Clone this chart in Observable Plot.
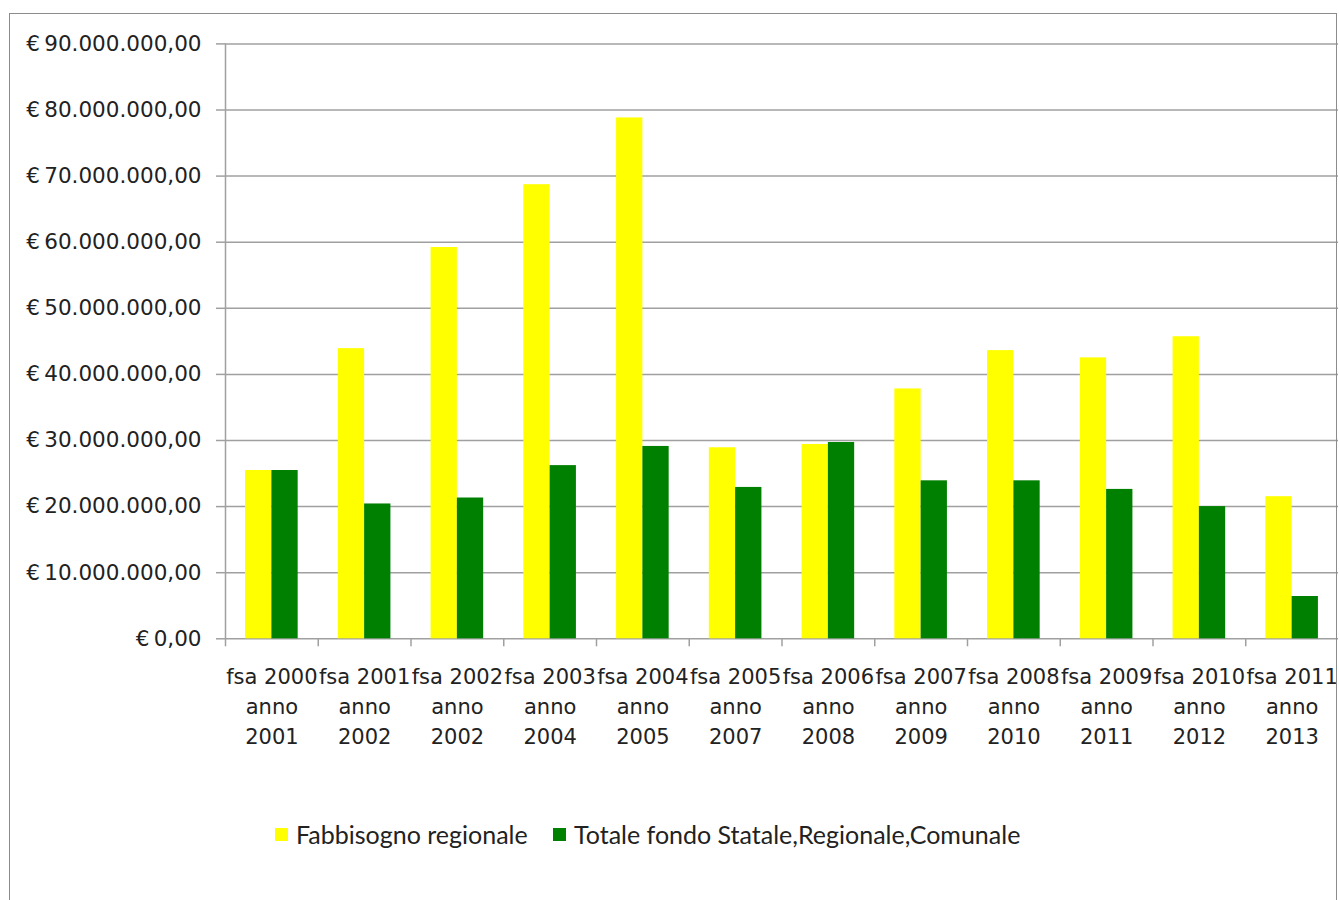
<!DOCTYPE html>
<html>
<head>
<meta charset="utf-8">
<script src="https://cdn.jsdelivr.net/npm/d3@7"></script>
<script src="https://cdn.jsdelivr.net/npm/@observablehq/plot@0.6"></script>
<style>
  html, body { margin: 0; padding: 0; background: #fff; width: 1339px; height: 900px; overflow: hidden; }
  #wrap { position: relative; width: 1339px; height: 900px; }
  #chart { position: absolute; left: 0; top: 0; }
  #frame { position: absolute; left: 9px; top: 13px; width: 1328px; height: 900px;
           border: 1.5px solid #8c8c8c; border-bottom: none; pointer-events: none; box-sizing: border-box; }
  #legend { position: absolute; top: 819px; left: 0; width: 1339px; height: 30px;
            font-family: Lato, "Open Sans", sans-serif; font-size: 25px; color: #222; }
  .item { position: absolute; top: 0; display: flex; align-items: center; height: 30px; white-space: nowrap; }
  .sw { width: 13px; height: 13px; margin-right: 8px; }
</style>
</head>
<body>
<div id="wrap">
  <div id="chart"></div>
  <div id="legend"></div>
  <div id="frame"></div>
</div>
<script>
// ---- data ----
const categories = [
  "fsa 2000\nanno\n2001", "fsa 2001\nanno\n2002", "fsa 2002\nanno\n2002", "fsa 2003\nanno\n2004",
  "fsa 2004\nanno\n2005", "fsa 2005\nanno\n2007", "fsa 2006\nanno\n2008", "fsa 2007\nanno\n2009",
  "fsa 2008\nanno\n2010", "fsa 2009\nanno\n2011", "fsa 2010\nanno\n2012", "fsa 2011\nanno\n2013"
];
const seriesNames = ["Fabbisogno regionale", "Totale fondo Statale,Regionale,Comunale"];
const seriesColors = ["#ffff00", "#008000"];
const fabbisogno = [25460000, 43900000, 59200000, 68700000, 78800000, 28900000,
                    29400000, 37800000, 43600000, 42500000, 45700000, 21500000];
const totale = [25460000, 20400000, 21300000, 26200000, 29100000, 22900000,
                29700000, 23900000, 23900000, 22600000, 20000000, 6400000];
const yTicks = [0, 10000000, 20000000, 30000000, 40000000, 50000000, 60000000, 70000000, 80000000, 90000000];

// ---- build ----
const rowsA = categories.map((c, i) => ({cat: c, value: fabbisogno[i]}));
const rowsB = categories.map((c, i) => ({cat: c, value: totale[i]}));

const W = 1339, H = 760;
const mL = 225, mR = 1, mT = 43.4, mB = H - 638.3;
const step = (W - mL - mR) / categories.length;
const groupW = step * 0.567;
const barW = groupW / 2;
const off = (step - groupW) / 2;

const numFmt = d3.formatLocale({decimal: ",", thousands: ".", grouping: [3]}).format(",.2f");
const itFormat = d => "€\u2009" + numFmt(d);
const gray = "#a0a0a0";

const chart = Plot.plot({
  width: W, height: H,
  marginLeft: mL, marginRight: mR, marginTop: mT, marginBottom: mB,
  style: {fontFamily: "'DejaVu Sans', Verdana, sans-serif", fontSize: "21px", color: "#222", background: "transparent"},
  x: {type: "band", domain: categories, padding: 0, round: false},
  y: {domain: [0, 90000000]},
  marks: [
    Plot.gridY({ticks: yTicks, stroke: gray, strokeOpacity: 1, strokeWidth: 1.5}),
    Plot.barY(rowsA, {x: "cat", y: "value", fill: seriesColors[0], insetLeft: off, insetRight: step - off - barW}),
    Plot.barY(rowsB, {x: "cat", y: "value", fill: seriesColors[1], insetLeft: off + barW, insetRight: off}),
    Plot.ruleX([categories[0]], {dx: -step / 2, stroke: gray, strokeWidth: 1.5}),
    Plot.axisY({ticks: yTicks, tickSize: 9, tickPadding: 15, tickFormat: itFormat, fontSize: 21.5, stroke: gray, strokeOpacity: 1, strokeWidth: 1.5, label: null}),
    Plot.axisX({ticks: categories, tickSize: 8, dx: -step / 2, tickFormat: () => "", stroke: gray, strokeOpacity: 1, strokeWidth: 1.5, label: null}),
    Plot.axisX({ticks: categories, tickSize: 0, tickPadding: 24, lineHeight: 1.42, fontSize: 21, label: null})
  ]
});
document.getElementById("chart").appendChild(chart);

// ---- legend ----
const legend = document.getElementById("legend");
const legendX = [275, 553];
seriesNames.forEach((name, i) => {
  const it = document.createElement("div");
  it.className = "item";
  it.style.left = legendX[i] + "px";
  const sw = document.createElement("span");
  sw.className = "sw";
  sw.style.background = seriesColors[i];
  const tx = document.createElement("span");
  tx.textContent = name;
  it.appendChild(sw); it.appendChild(tx);
  legend.appendChild(it);
});
</script>
</body>
</html>
